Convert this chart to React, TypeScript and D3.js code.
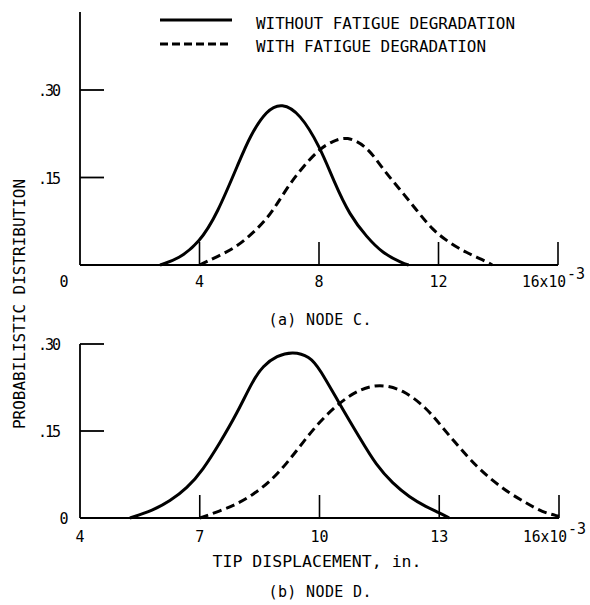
import React from "react";
import * as d3 from "d3";

// ---------- data ----------
const legendLabels = ["WITHOUT FATIGUE DEGRADATION", "WITH FATIGUE DEGRADATION"];
const yAxisTitle = "PROBABILISTIC DISTRIBUTION";
const xAxisTitle = "TIP DISPLACEMENT, in.";
const panelCaptions = ["(a) NODE C.", "(b) NODE D."];

const yTicks = [0.15, 0.3];
const yTickLabels = [".15", ".30"];

const nodeCXTicks = [0, 4, 8, 12, 16];
const nodeDXTicks = [4, 7, 10, 13, 16];

// Node C, without fatigue degradation (solid)
const nodeCSolidX = [2.68, 3.3, 4.0, 4.58, 5.35, 5.69, 6.25, 6.76, 7.36, 8.03, 8.5, 9.03, 9.6, 10.13, 10.8, 11.0];
const nodeCSolidY = [0, 0.01, 0.039, 0.086, 0.18, 0.221, 0.266, 0.278, 0.26, 0.203, 0.143, 0.085, 0.048, 0.02, 0.003, 0];
// Node C, with fatigue degradation (dashed)
const nodeCDashX = [4.0, 4.58, 5.25, 5.79, 6.25, 6.59, 7.02, 7.46, 8.03, 8.46, 8.93, 9.6, 10.13, 10.7, 11.27, 11.8, 12.37, 12.94, 13.48, 13.8];
const nodeCDashY = [0, 0.014, 0.031, 0.055, 0.079, 0.104, 0.139, 0.168, 0.2, 0.212, 0.221, 0.204, 0.165, 0.13, 0.094, 0.06, 0.038, 0.021, 0.009, 0];

// Node D, without fatigue degradation (solid)
const nodeDSolidX = [5.25, 5.83, 6.25, 6.68, 7.08, 7.5, 7.93, 8.33, 8.58, 8.93, 9.33, 9.75, 10.0, 10.5, 11.0, 11.43, 11.83, 12.25, 12.68, 13.0, 13.25];
const nodeDSolidY = [0, 0.013, 0.029, 0.051, 0.083, 0.129, 0.18, 0.237, 0.262, 0.28, 0.287, 0.279, 0.258, 0.197, 0.139, 0.09, 0.06, 0.036, 0.019, 0.009, 0];
// Node D, with fatigue degradation (dashed)
const nodeDDashX = [7.0, 7.5, 7.93, 8.33, 8.75, 9.18, 9.58, 10.0, 10.5, 11.0, 11.5, 12.08, 12.68, 13.08, 13.5, 13.93, 14.33, 14.75, 15.18, 15.58, 16.0];
const nodeDDashY = [0, 0.012, 0.024, 0.04, 0.062, 0.094, 0.13, 0.166, 0.199, 0.222, 0.231, 0.222, 0.19, 0.156, 0.122, 0.089, 0.065, 0.043, 0.026, 0.01, 0.003];

// ---------- layout ----------
const W = 590;
const H = 605;
const FONT = "'DejaVu Sans Mono', monospace";
const DASH = "9,5";

type Panel = {
  x: d3.ScaleLinear<number, number>;
  y: d3.ScaleLinear<number, number>;
  xTicks: number[];
  solid: [number[], number[]];
  dash: [number[], number[]];
  yTop: number;
  labelBase: number;
  caption: string;
  captionBase: number;
};

const panels: Panel[] = [
  {
    x: d3.scaleLinear().domain([0, 16]).range([80, 558]),
    y: d3.scaleLinear().domain([0, 0.3]).range([265, 90]),
    xTicks: nodeCXTicks,
    solid: [nodeCSolidX, nodeCSolidY],
    dash: [nodeCDashX, nodeCDashY],
    yTop: 12,
    labelBase: 287,
    caption: panelCaptions[0],
    captionBase: 325,
  },
  {
    x: d3.scaleLinear().domain([4, 16]).range([80, 559]),
    y: d3.scaleLinear().domain([0, 0.3]).range([518, 344]),
    xTicks: nodeDXTicks,
    solid: [nodeDSolidX, nodeDSolidY],
    dash: [nodeDDashX, nodeDDashY],
    yTop: 344,
    labelBase: 542,
    caption: panelCaptions[1],
    captionBase: 597,
  },
];

function PanelView({ p }: { p: Panel }) {
  const [x0, x1] = p.x.range();
  const y0 = p.y(0);
  const line = d3
    .line<[number, number]>()
    .x((d) => p.x(d[0]))
    .y((d) => p.y(d[1]))
    .curve(d3.curveBasis);
  const pts = (s: [number[], number[]]) => s[0].map((v, i) => [v, s[1][i]] as [number, number]);
  const xMin = p.x.domain()[0];
  const xMax = p.x.domain()[1];
  return (
    <g>
      {/* axes */}
      <line x1={x0} x2={x0} y1={p.yTop} y2={y0} stroke="#000" strokeWidth={1.8} />
      <line x1={x0} x2={x1} y1={y0} y2={y0} stroke="#000" strokeWidth={1.8} />
      {yTicks.map((t, i) => (
        <g key={"yt" + i}>
          <line x1={x0} x2={x0 + 24} y1={p.y(t)} y2={p.y(t)} stroke="#000" strokeWidth={1.8} />
          <text x={59} y={p.y(t) + 6} textAnchor="end" fontFamily={FONT} fontSize={15} letterSpacing={-2}>
            {yTickLabels[i]}
          </text>
        </g>
      ))}
      {xMin === 4 && (
        <text x={64} y={y0 + 6} textAnchor="middle" fontFamily={FONT} fontSize={15}>
          0
        </text>
      )}
      {p.xTicks.map((t) => (
        <g key={"xt" + t}>
          {t !== xMin && (
            <line x1={p.x(t)} x2={p.x(t)} y1={y0} y2={y0 - 23} stroke="#000" strokeWidth={1.6} />
          )}
          {t === xMax ? (
            <g>
              <text x={p.x(t) - 36} y={p.labelBase} fontFamily={FONT} fontSize={15} textLength={44} lengthAdjust="spacingAndGlyphs">
                16x10
              </text>
              <text x={p.x(t) + 9} y={p.labelBase - 8} fontFamily={FONT} fontSize={15}>
                -3
              </text>
            </g>
          ) : (
            <text
              x={t === 0 ? 64 : p.x(t)}
              y={p.labelBase}
              textAnchor="middle"
              fontFamily={FONT}
              fontSize={15}
            >
              {t}
            </text>
          )}
        </g>
      ))}
      <path d={line(pts(p.solid)) || ""} fill="none" stroke="#000" strokeWidth={3} />
      <path d={line(pts(p.dash)) || ""} fill="none" stroke="#000" strokeWidth={3} strokeDasharray={DASH} />
      <text x={320} y={p.captionBase} textAnchor="middle" fontFamily={FONT} fontSize={15} textLength={103} lengthAdjust="spacing">
        {p.caption}
      </text>
    </g>
  );
}

export default function App() {
  return (
    <svg width={W} height={H} style={{ position: "absolute", left: 0, top: 0, background: "#fff" }}>
      <rect width={W} height={H} fill="#fff" />
      {/* legend */}
      <line x1={160} x2={232} y1={20} y2={20} stroke="#000" strokeWidth={3} />
      <text x={256} y={29} fontFamily={FONT} fontSize={16} textLength={259} lengthAdjust="spacingAndGlyphs">
        {legendLabels[0]}
      </text>
      <line x1={160} x2={232} y1={44} y2={44} stroke="#000" strokeWidth={3} strokeDasharray="8,4" />
      <text x={256} y={52} fontFamily={FONT} fontSize={16} textLength={230} lengthAdjust="spacingAndGlyphs">
        {legendLabels[1]}
      </text>
      {panels.map((p, i) => (
        <PanelView key={i} p={p} />
      ))}
      <text
        transform="translate(25,304) rotate(-90)"
        textAnchor="middle"
        fontFamily={FONT}
        fontSize={16}
        textLength={250}
        lengthAdjust="spacingAndGlyphs"
      >
        {yAxisTitle}
      </text>
      <text x={317} y={567} textAnchor="middle" fontFamily={FONT} fontSize={16} textLength={209} lengthAdjust="spacingAndGlyphs">
        {xAxisTitle}
      </text>
    </svg>
  );
}
